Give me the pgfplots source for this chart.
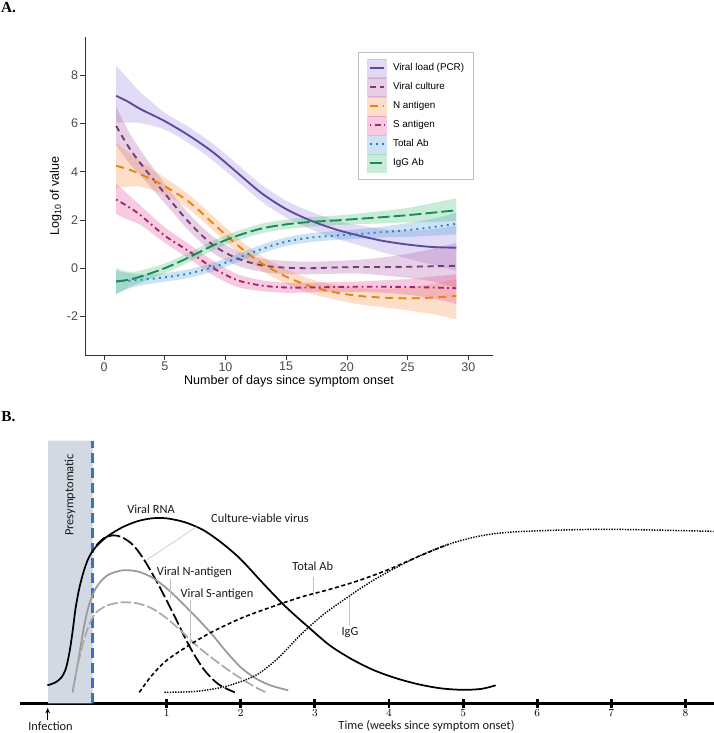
\documentclass[border=0pt]{standalone}
\usepackage{pgfplots}
\pgfplotsset{compat=1.18}
\usepackage{pgfplotstable}
\usepgfplotslibrary{fillbetween}
\usetikzlibrary{arrows.meta}
\usepackage{fontspec}
\setmainfont{Liberation Sans}
\newfontfamily\carlito{Carlito}
\newfontfamily\serifA{Liberation Serif}

% panel A line / ribbon colours
\definecolor{cPCR}{HTML}{5C4A9C}\definecolor{fPCR}{HTML}{987DDE}
\definecolor{cCul}{HTML}{763A75}\definecolor{fCul}{HTML}{A855A2}
\definecolor{cNag}{HTML}{E8830F}\definecolor{fNag}{HTML}{F88A3A}
\definecolor{cSag}{HTML}{A3276F}\definecolor{fSag}{HTML}{E14191}
\definecolor{cTot}{HTML}{2E7DB5}\definecolor{fTot}{HTML}{4898DA}
\definecolor{cIgG}{HTML}{178A55}\definecolor{fIgG}{HTML}{3EBC76}
% panel B
\definecolor{presym}{HTML}{D3D9E3}
\definecolor{onset}{HTML}{3C70C8}
\definecolor{leader}{HTML}{C4C4C4}

\pgfplotstableread{
x  m     lo    hi
1  7.15  6.05  8.40
2  6.90  6.04  7.85
3  6.60  6.02  7.30
5  6.10  5.75  6.45
7  5.50  5.18  5.85
9  4.80  4.45  5.15
11 3.95  3.60  4.30
13 3.10  2.75  3.45
15 2.45  2.10  2.80
17 1.98  1.62  2.35
19 1.62  1.25  2.00
21 1.35  0.95  1.78
23 1.13  0.65  1.62
25 0.98  0.40  1.56
27 0.88  0.15  1.62
29 0.85  -0.10 1.78
}\tPCR
\pgfplotstableread{
x  m     lo    hi
1  5.90  5.10  6.70
2  5.05  4.40  5.70
3  4.35  3.85  4.90
5  3.10  2.70  3.50
7  1.90  1.55  2.25
9  0.95  0.62  1.30
11 0.40  0.10  0.70
13 0.12  -0.15 0.40
15 0.02  -0.25 0.30
17 0.00  -0.25 0.27
19 0.03  -0.23 0.30
21 0.05  -0.22 0.35
23 0.05  -0.30 0.45
25 0.06  -0.40 0.60
27 0.08  -0.55 0.80
29 0.10  -0.80 1.05
}\tCul
\pgfplotstableread{
x  m     lo    hi
1  4.25  3.35  5.20
2  4.10  3.38  4.80
3  3.90  3.38  4.42
5  3.40  3.05  3.75
7  2.75  2.45  3.05
9  1.85  1.55  2.15
11 0.95  0.65  1.25
13 0.20  -0.10 0.50
15 -0.35 -0.65 -0.05
17 -0.75 -1.05 -0.45
19 -1.00 -1.30 -0.70
21 -1.15 -1.50 -0.82
23 -1.22 -1.62 -0.85
25 -1.25 -1.75 -0.80
27 -1.22 -1.90 -0.65
29 -1.15 -2.12 -0.45
}\tNag
\pgfplotstableread{
x  m     lo    hi
1  2.85  2.25  3.50
2  2.55  2.00  3.05
3  2.20  1.80  2.60
5  1.35  1.05  1.70
7  0.70  0.40  1.00
9  0.00  -0.30 0.30
11 -0.50 -0.78 -0.25
13 -0.72 -0.95 -0.50
15 -0.80 -1.02 -0.60
17 -0.80 -1.00 -0.60
19 -0.78 -0.98 -0.58
21 -0.77 -0.98 -0.55
23 -0.77 -1.02 -0.50
25 -0.78 -1.10 -0.45
27 -0.80 -1.25 -0.35
29 -0.83 -1.48 -0.25
}\tSag
\pgfplotstableread{
x  m     lo    hi
1  -0.55 -1.05 -0.10
2  -0.52 -0.85 -0.20
3  -0.48 -0.72 -0.25
5  -0.38 -0.56 -0.20
7  -0.22 -0.40 -0.04
9  0.05  -0.13 0.23
11 0.42  0.25  0.60
13 0.80  0.62  0.98
15 1.10  0.92  1.28
17 1.27  1.08  1.45
19 1.35  1.17  1.54
21 1.42  1.22  1.62
23 1.50  1.28  1.73
25 1.58  1.30  1.87
27 1.70  1.35  2.05
29 1.85  1.40  2.30
}\tTot
\pgfplotstableread{
x  m     lo    hi
1  -0.55 -1.10 0.00
2  -0.48 -0.80 -0.15
3  -0.35 -0.60 -0.10
5  0.00  -0.20 0.20
7  0.45  0.25  0.65
9  0.95  0.75  1.15
11 1.35  1.15  1.55
13 1.65  1.45  1.85
15 1.82  1.62  2.02
17 1.92  1.72  2.12
19 1.98  1.78  2.18
21 2.05  1.83  2.27
23 2.12  1.86  2.38
25 2.20  1.90  2.50
27 2.30  1.92  2.70
29 2.40  1.95  2.90
}\tIgG

\tikzset{
  sPCR/.style={cPCR, line width=1.4pt},
  sCul/.style={cCul, line width=1.4pt, dash pattern=on 4.5pt off 3.5pt},
  sNag/.style={cNag, line width=1.4pt, dash pattern=on 6pt off 4pt},
  sSag/.style={cSag, line width=1.4pt, dash pattern=on 1.3pt off 2.6pt on 4.2pt off 2.6pt},
  sTot/.style={cTot, line width=1.4pt, dash pattern=on 1.4pt off 3.2pt},
  sIgG/.style={cIgG, line width=1.4pt, dash pattern=on 9pt off 3pt},
}

% ribbon + legend swatch helpers
\newcommand{\band}[3]{%
  \addplot[name path=#1hi, draw=none, smooth, forget plot] table[x=x,y=hi]{#2};
  \addplot[name path=#1lo, draw=none, smooth, forget plot] table[x=x,y=lo]{#2};
  \addplot[#3, fill opacity=.28, draw=none, forget plot] fill between[of=#1hi and #1lo];
}
\newcommand{\keyimg}[2]{%
  \addlegendimage{legend image code/.code={\path (0pt,0pt);
    \fill[#1, opacity=.28] (2.5pt,-6.9pt) rectangle (16.3pt,6.9pt);
    \draw[#2] (4pt,0pt) -- (14.8pt,0pt);}}
}

\begin{document}
\begin{tikzpicture}

% ---------------- panel A ----------------
\begin{axis}[
  at={(63.98pt,-266.25pt)}, anchor=south west,
  scale only axis, width=305.55pt, height=238.7pt,
  xmin=-1.54, xmax=32, ymin=-3.6, ymax=9.6,
  axis x line*=bottom, axis y line*=left,
  axis line style={black!80, line width=0.75pt},
  xtick={0,5,...,30}, ytick={-2,0,...,8},
  tick align=outside, major tick length=3.75pt,
  every tick/.style={black!80, line width=0.6pt},
  /pgf/number format/assume math mode=true,
  tick label style={font=\fontsize{9.4}{11}\selectfont, text=black!70, inner sep=1.5pt},
  label style={font=\fontsize{9.4}{11}\selectfont},
  xlabel={Number of days since symptom onset},
  xlabel style={at={(axis description cs:0.5,-0.0839)}, anchor=center},
  ylabel={Log\textsubscript{10} of value},
  ylabel style={at={(axis description cs:-0.0727,0.5)}, anchor=center},
  legend style={at={(0.669,0.952)}, anchor=north west, draw=black!25, fill=white,
    font=\fontsize{7.4}{8.5}\selectfont, inner xsep=4.5pt, inner ysep=5pt, row sep=0pt,
    /tikz/every odd column/.append style={column sep=3pt}},
  legend cell align=left,
]
\band{pcr}{\tPCR}{fPCR}
\band{cul}{\tCul}{fCul}
\band{nag}{\tNag}{fNag}
\band{sag}{\tSag}{fSag}
\band{tot}{\tTot}{fTot}
\band{igg}{\tIgG}{fIgG}

\addplot[sPCR, smooth, forget plot] table[x=x,y=m]{\tPCR};
\addplot[sCul, smooth, forget plot] table[x=x,y=m]{\tCul};
\addplot[sNag, smooth, forget plot] table[x=x,y=m]{\tNag};
\addplot[sSag, smooth, forget plot] table[x=x,y=m]{\tSag};
\addplot[sTot, smooth, forget plot] table[x=x,y=m]{\tTot};
\addplot[sIgG, smooth, forget plot] table[x=x,y=m]{\tIgG};

\keyimg{fPCR}{sPCR}\addlegendentry{Viral load (PCR)}
\keyimg{fCul}{sCul}\addlegendentry{Viral culture}
\keyimg{fNag}{sNag}\addlegendentry{N antigen}
\keyimg{fSag}{sSag}\addlegendentry{S antigen}
\keyimg{fTot}{sTot}\addlegendentry{Total Ab}
\keyimg{fIgG}{sIgG}\addlegendentry{IgG Ab}
\end{axis}

% ---------------- panel B ----------------
\begin{axis}[
  at={(15pt,-527.5pt)}, anchor=south west,
  scale only axis, width=520.5pt, height=196.95pt,
  xmin=-0.98, xmax=8.386, ymin=0, ymax=262.6,
  axis x line*=bottom, axis y line=none,
  x axis line style={black, line width=2pt},
  xtick={1,...,8}, ytick=\empty,
  tick align=center, major tick length=7pt,
  xtick style={black, line width=2.2pt},
  xticklabel style={font=\carlito\fontsize{8}{9}\selectfont, inner sep=1pt},
  clip=false,
]
\addplot[fill=presym, draw=none] coordinates {(-0.6,0) (-0.6,262.6) (0,262.6) (0,0)} \closedcycle;
\addplot[onset, line width=1.9pt, dash pattern=on 7.5pt off 3.75pt] coordinates {(0,0) (0,262.6)};

% viral RNA
\addplot[black, line width=1.3pt, smooth] coordinates {
 (-0.61,18) (-0.5,21) (-0.42,26) (-0.36,35) (-0.31,52) (-0.27,72) (-0.23,95)
 (-0.18,115) (-0.12,132) (-0.05,146) (0.05,157) (0.2,167) (0.4,176) (0.6,182)
 (0.8,185) (1.0,185) (1.25,181) (1.5,173) (1.75,160) (2.0,144) (2.3,120)
 (2.6,97) (2.9,77) (3.2,58) (3.5,44) (3.8,33) (4.1,25) (4.4,19) (4.7,15)
 (5.0,13.5) (5.25,14.5) (5.44,18)};
% culture-viable virus
\addplot[black, line width=1.3pt, smooth, dash pattern=on 9pt off 2.5pt] coordinates {
 (0.05,158) (0.15,165) (0.28,168) (0.4,166) (0.55,158) (0.7,143) (0.9,117)
 (1.1,88) (1.3,58) (1.5,34) (1.7,19) (1.92,11)};
% viral N-antigen
\addplot[black!40, line width=1.3pt, smooth] coordinates {
 (-0.27,11) (-0.2,40) (-0.12,75) (-0.05,98) (0.05,116) (0.2,128) (0.4,133)
 (0.6,132) (0.8,126) (1.0,115) (1.2,101) (1.4,86) (1.6,70) (1.8,52) (2.0,36)
 (2.2,25) (2.4,18) (2.64,13)};
% viral S-antigen
\addplot[black!33, line width=1.3pt, smooth, dash pattern=on 8pt off 2.2pt] coordinates {
 (-0.27,13) (-0.2,38) (-0.12,62) (-0.04,80) (0.05,91) (0.2,98) (0.4,101)
 (0.6,100) (0.8,95) (1.0,85) (1.2,72) (1.4,58) (1.6,46) (1.8,35) (2.0,25)
 (2.2,16) (2.34,11)};
% total Ab
\addplot[black, line width=1.2pt, smooth, dash pattern=on 3pt off 2pt] coordinates {
 (0.63,11) (0.8,28) (1.0,43) (1.3,58) (1.6,71) (2.0,85) (2.4,96) (2.8,106)
 (3.2,114) (3.6,123) (4.0,134) (4.4,147) (4.8,159)};
% IgG
\addplot[black, line width=1.1pt, smooth, dash pattern=on 1pt off 1pt] coordinates {
 (0.97,11) (1.4,12) (1.8,17) (2.2,28) (2.5,45) (2.8,68) (3.1,88) (3.4,104)
 (3.7,119) (4.0,132) (4.4,147) (4.8,159) (5.2,167) (5.6,171) (6.2,173)
 (7.0,174) (8.38,172)};
\end{axis}

% ---------------- annotations (pixel grid) ----------------
\begin{scope}[x=0.75pt, y=-0.75pt]
\node[font=\serifA\bfseries\fontsize{11.5}{13}\selectfont] at (8.5,7.5) {A.};
\node[font=\serifA\bfseries\fontsize{11.5}{13}\selectfont] at (8.5,417) {B.};

\begin{scope}[every node/.style={font=\carlito\fontsize{9.3}{11}\selectfont, text=black!90, inner sep=0pt}]
\node at (151,509.5) {Viral RNA};
\node at (260,518) {Culture-viable virus};
\node at (194.5,572.5) {Viral N-antigen};
\node at (217,594) {Viral S-antigen};
\node at (312.7,566.7) {Total Ab};
\node at (350,633) {IgG};
\node[rotate=90] at (70,495) {Presymptomatic};
\node at (50.5,726) {Infection};
\node at (426.5,726) {Time (weeks since symptom onset)};
\end{scope}

\begin{scope}[leader, line width=0.5pt]
\draw (196.7,526.7) -- (146.7,560);
\draw (170.7,578.5) -- (170.7,599);
\draw (190.7,600) -- (190.7,646);
\draw (313.3,576.5) -- (313.3,597);
\draw (349,625.5) -- (349,597);
\end{scope}
\draw[-{Stealth[length=4pt,width=3.5pt]}, line width=0.8pt] (47.7,720) -- (47.7,708);
\end{scope}

\pgfresetboundingbox
\useasboundingbox (0,0) rectangle (535.5pt,-549.75pt);
\end{tikzpicture}
\end{document}
